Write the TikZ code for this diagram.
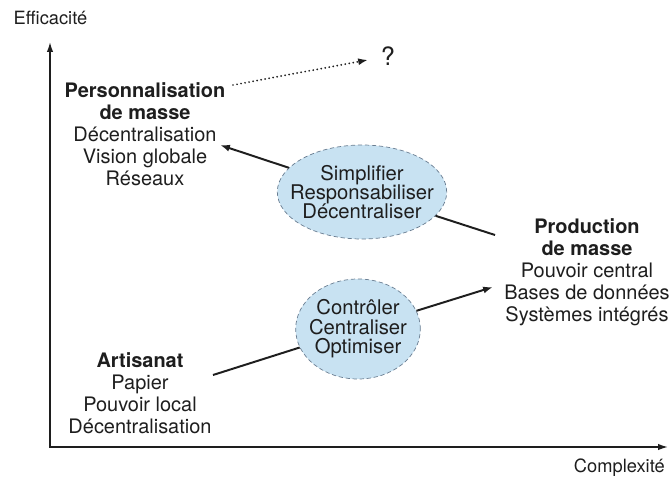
\documentclass[tikz,border=0pt]{standalone}
\usepackage{fontspec}
\setmainfont{TeX Gyre Heros}
\usetikzlibrary{arrows.meta,shapes.geometric}
\definecolor{bleubulle}{RGB}{200,226,242}
\definecolor{bordbulle}{RGB}{105,125,145}
\definecolor{encre}{RGB}{30,30,30}
\def\texte{\fontsize{14.2pt}{15.6pt}\selectfont}
\def\petit{\fontsize{13pt}{15pt}\selectfont}
\tikzset{
	bloc/.style={align=center, text=encre, font=\texte, inner sep=0pt},
	bulle/.style={ellipse, draw=bordbulle, fill=bleubulle, densely dashed, line width=0.5pt,
		align=center, text=encre, inner ysep=0pt, font=\fontsize{14.4pt}{13.8pt}\selectfont},
	fleche/.style={line width=1.4pt, draw=encre, -{Latex[length=7pt,width=5pt]}},
	trait/.style={line width=1.4pt, draw=encre},
	axe/.style={line width=1pt, draw=encre, {Latex[length=7pt,width=4.5pt]}-{Latex[length=7pt,width=4.5pt]}}
}
\begin{document}
\begin{tikzpicture}
			%%%%% START %%%%%
			
			\useasboundingbox (0, 0) rectangle (16.8, 12.025);
			
			\coordinate (ytop) at (1.25, 10.975);
			\coordinate (O) at (1.25, 0.85);
			\coordinate (xend) at (16.7, 0.85);
			\draw[axe] (ytop) -- (O) -- (xend);
			
			\node[text=encre, font=\petit] (effic) at (1.2625, 11.575) {Efficacité};
			\node[text=encre, font=\petit, anchor=east, inner sep=0pt] (complex) at (16.625, 0.325) {Complexité};
			
			\node[bloc] (perso) at (3.625, 8.675) {\textbf{Personnalisation}\\\textbf{de masse}\\Décentralisation\\Vision globale\\Réseaux};
			\node[bloc] (prod) at (14.675, 5.225) {\textbf{Production}\\\textbf{de masse}\\Pouvoir central\\Bases de données\\Systèmes intégrés};
			\node[bloc] (artis) at (3.5, 2.2) {\textbf{Artisanat}\\Papier\\Pouvoir local\\Décentralisation};
			
			\node[bulle, inner xsep=-0.3cm, minimum height=2.35cm] (simp) at (9.05, 7.225) {Simplifier\\Responsabiliser\\Décentraliser};
			\node[bulle, inner xsep=-0.12cm, minimum height=2.5cm] (ctrl) at (8.95, 3.8) {Contrôler\\Centraliser\\Optimiser};
			
			\node[text=encre, font=\fontsize{18pt}{20pt}\selectfont, inner xsep=9pt, inner ysep=2pt] (q) at (9.7, 10.62) {?};
			
			\coordinate (persoend) at (5.5, 8.4);
			\coordinate (prodin) at (12.375, 6.15);
			\coordinate (artout) at (5.325, 2.65);
			\coordinate (prodend) at (12.325, 4.85);
			\coordinate (dotstart) at (5.825, 9.9);
			
			\draw[trait] (prodin) -- (simp);
			\draw[fleche] (simp) -- (persoend);
			\draw[trait] (artout) -- (ctrl);
			\draw[fleche] (ctrl) -- (prodend);
			\draw[line width=1.4pt, draw=encre, dash pattern=on 0pt off 2.9pt, line cap=round, -{Latex[length=7pt,width=5pt]}] (dotstart) -- (q);
			
			%%%%% END %%%%%
\end{tikzpicture}
\end{document}
